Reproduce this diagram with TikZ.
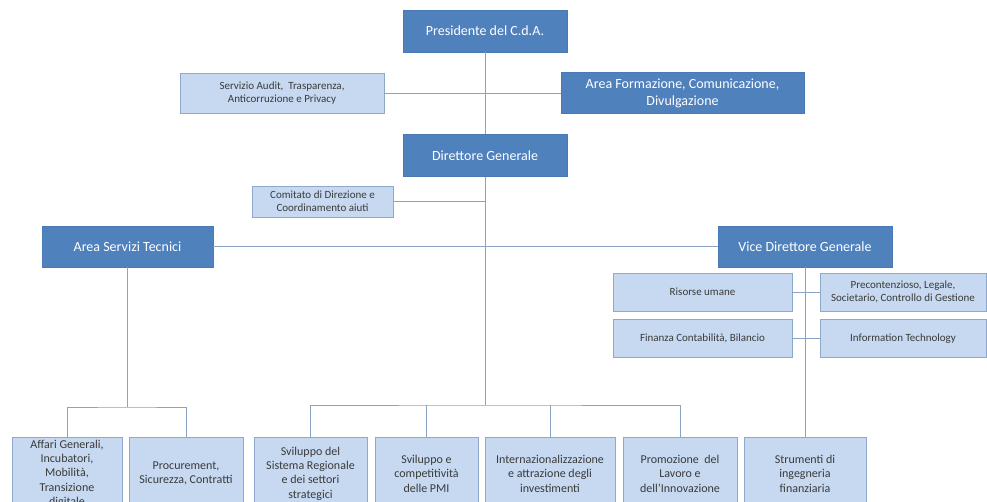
\documentclass[tikz,border=0pt]{standalone}
\usepackage{fontspec}
\setmainfont{Carlito}
\usepackage{tikz}
\usepackage{xcolor}

\definecolor{dkblue}{HTML}{4F81BD}
\definecolor{dkline}{HTML}{4A7AB3}
\definecolor{ltblue}{HTML}{C6D9F1}
\definecolor{ltline}{HTML}{8EA9CC}
\definecolor{lnblue}{HTML}{8AA3C2}
\definecolor{txgray}{HTML}{3A3A3A}

\tikzset{
  dkbox/.style={draw=dkline,fill=dkblue,text=white,font=\fontsize{14}{17}\selectfont,inner sep=1pt,align=center},
  ltbox/.style={draw=ltline,fill=ltblue,text=txgray,font=\fontsize{11}{13}\selectfont,inner sep=1pt,align=center},
  btbox/.style={ltbox,font=\fontsize{12}{14.3}\selectfont,anchor=north,minimum height=73},
  link/.style={draw=lnblue,line width=1pt}
}

\begin{document}
\begin{tikzpicture}[x=1pt,y=-1pt]
  \clip (0,0) rectangle (987,501);

  \node[dkbox,minimum width=164,minimum height=42] (PrCd) at (485,31) {Presidente del C.d.A.};
  \node[ltbox,minimum width=204,minimum height=40] (SeAu) at (282,93) {Servizio Audit,\ \ Trasparenza,\\Anticorruzione e Privacy};
  \node[dkbox,minimum width=243,minimum height=41] (ArFo) at (682.5,93) {Area Formazione, Comunicazione,\\Divulgazione};

  \node[dkbox,minimum width=164,minimum height=42] (DiGe) at (485,155.5) {Direttore Generale};
  \node[ltbox,minimum width=141,minimum height=31] (CoDi) at (322.5,201.5) {Comitato di Direzione e\\Coordinamento aiuti};

  \node[dkbox,minimum width=171,minimum height=41] (ArSe) at (127.5,246.5) {Area Servizi Tecnici};
  \node[dkbox,minimum width=174,minimum height=41] (ViDi) at (805,246.5) {Vice Direttore Generale};

  % %staff of the vice director
  \node[ltbox,minimum width=179,minimum height=38] (RiUm) at (702.5,292) {Risorse umane};
  \node[ltbox,minimum width=166,minimum height=38] (PrLe) at (903,292) {Precontenzioso, Legale,\\Societario, Controllo di Gestione};
  \node[ltbox,minimum width=179,minimum height=38] (FiCo) at (702.5,338.5) {Finanza Contabilità, Bilancio};
  \node[ltbox,minimum width=166,minimum height=38] (InTe) at (903,338.5) {Information Technology};

  % %bottom row
  \node[btbox,minimum width=110] (AfGe) at (67,437) {Affari Generali,\\Incubatori,\\Mobilità,\\Transizione\\digitale};
  \node[btbox,minimum width=114] (PrSi) at (186,437) {Procurement,\\Sicurezza, Contratti};
  \node[btbox,minimum width=113] (SvSi) at (310.5,437) {Sviluppo del\\Sistema Regionale\\e dei settori\\strategici};
  \node[btbox,minimum width=103] (SvCo) at (426.5,437) {Sviluppo e\\competitività\\delle PMI};
  \node[btbox,minimum width=130] (InAt) at (550,437) {Internazionalizzazione\\e attrazione degli\\investimenti};
  \node[btbox,minimum width=114] (PrLa) at (680,437) {Promozione\ \ del\\Lavoro e\\dell'Innovazione};
  \node[btbox,minimum width=122] (StIn) at (805,437) {Strumenti di\\ingegneria\\finanziaria};

  \coordinate (CeBu) at (485,405);
  \coordinate (TeBu) at (127.5,407);

  \draw[link] (PrCd) to (DiGe);
  \draw[link] (SeAu) to (ArFo);
  \draw[link] (CoDi.east) to (CoDi.east -| DiGe.south);
  \draw[link] (ArSe) to (ViDi);
  \draw[link] (DiGe) to (CeBu);
  \draw[link] (SvSi.north) |- (CeBu) -| (PrLa.north);
  \draw[link] (SvCo.north) to (SvCo.north |- CeBu);
  \draw[link] (InAt.north) to (InAt.north |- CeBu);

  \draw[link] (ArSe) to (TeBu);
  \draw[link] (AfGe.north) |- (TeBu) -| (PrSi.north);

  \draw[link] (ViDi) to (StIn);
  \draw[link] (RiUm) to (PrLe);
  \draw[link] (FiCo) to (InTe);

\end{tikzpicture}
\end{document}
